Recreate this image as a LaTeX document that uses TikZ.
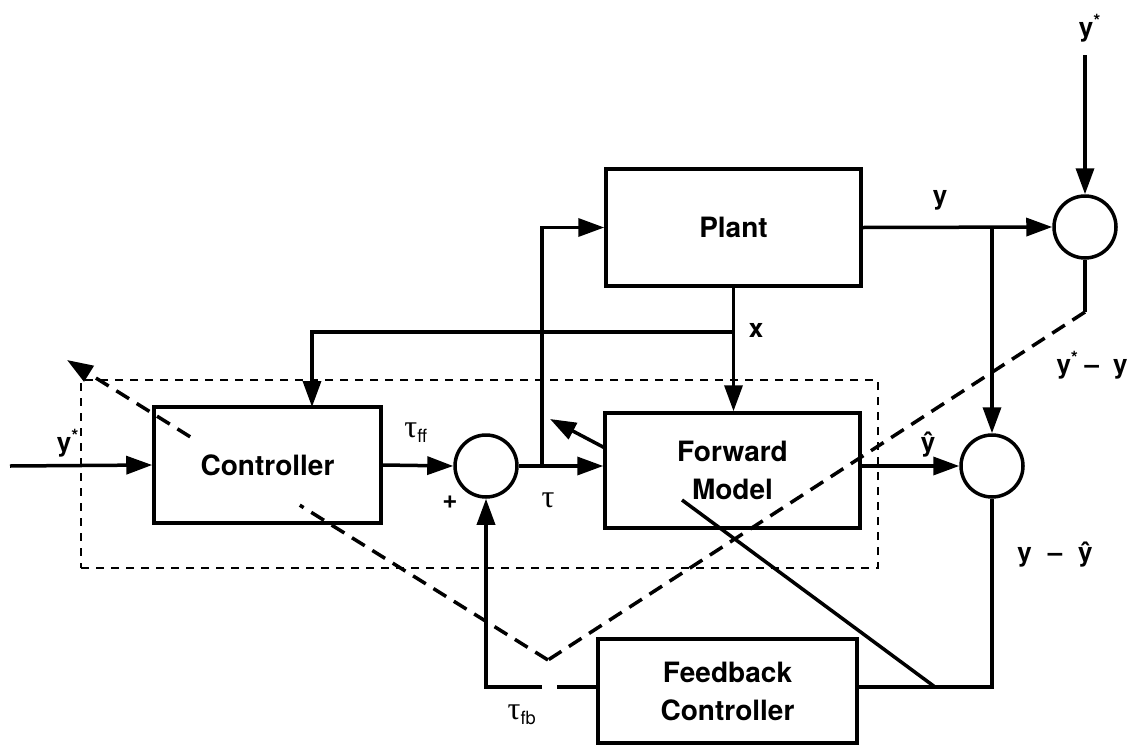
\documentclass[tikz,border=0pt]{standalone}
\usepackage{fontspec}
\setmainfont{TeX Gyre Heros}
\newfontfamily\grk{Liberation Serif}
\usetikzlibrary{arrows.meta,calc}
\tikzset{
  box/.style={draw,line width=3.5pt,rectangle,fill=none,align=center,
    font=\fontsize{28}{38}\selectfont\bfseries},
  sumnode/.style={draw,line width=3.5pt,circle,minimum size=62pt,inner sep=0pt},
  conn/.style={line width=3.5pt},
  arr/.style={line width=3.5pt,-{Triangle[length=26pt,width=18pt]}},
  lab/.style={inner sep=0pt,font=\fontsize{26}{30}\selectfont\bfseries},
  dashline/.style={line width=3.5pt,dash pattern=on 15pt off 9pt},
  dotbox/.style={draw,line width=2.5pt,dash pattern=on 8pt off 7pt,rectangle,inner sep=0pt}
}
\newcommand{\tauglyph}{{\grk\mdseries\fontsize{32}{32}\selectfont τ}}
\begin{document}
\begin{tikzpicture}[x=1pt,y=-1pt]
\useasboundingbox (0,0) rectangle (1141,747);
% group box
\node[dotbox,minimum width=797pt,minimum height=188pt] (grp) at (479.5,474) {};
% blocks
\node[box,minimum width=227pt,minimum height=116pt] (ctrl) at (267.5,465) {Controller};
\node[box,minimum width=255pt,minimum height=117pt] (plant) at (733.5,227.5) {Plant};
\node[box,minimum width=255pt,minimum height=115pt] (fm) at (732.5,470.5) {Forward\\Model};
\node[box,minimum width=259pt,minimum height=104pt] (fb) at (727.5,691) {Feedback\\Controller};
\node[sumnode] (sum1) at (486,466) {};
\node[sumnode] (sum2) at (992,466) {};
\node[sumnode] (sum3) at (1085,227) {};
% coordinates
\coordinate (in) at (10,466);
\coordinate (b1) at (542,466);
\coordinate (xj) at (733.5,332);
\coordinate (ctop) at (312,407);
\coordinate (yj) at (992,227);
\coordinate (ys) at (1085,55);
\coordinate (e1) at (1085,312);
\coordinate (v) at (548,660);
\coordinate (tip) at (67,360);
\coordinate (fa) at (605,448);
\coordinate (fat) at (550,419);
\coordinate (c2) at (992,687);
\coordinate (s1) at (682,500);
\coordinate (s2) at (935,687);
\coordinate (g1) at (557,687);
\coordinate (g2) at (542,687);
% connectors
\draw[arr] (in) -- (ctrl.west);
\draw[arr] (ctrl.east) -- (sum1.west);
\draw[arr] (sum1.east) -- (sum1.east -| fm.west);
\draw[arr] (b1) |- (plant.west);
\draw[arr] (plant.south) -- (plant.south |- fm.north);
\draw[arr] (xj) -| (ctop);
\draw[arr] (plant.east) -- (sum3.west);
\draw[arr] (yj) -- (sum2.north);
\draw[arr] (ys) -- (sum3.north);
\draw[conn] (sum3.south) -- (e1);
\draw[arr] (fa) -- (fat);
\draw[arr] (sum2.west -| fm.east) -- (sum2.west);
\draw[conn] (sum2.south) -- (c2) -- (c2 -| fb.east);
\draw[conn] (s1) -- (s2);
\draw[conn] (g1 -| fb.west) -- (g1);
\draw[arr] (g2) -| (sum1.south);
% dashed error paths
\draw[dashline] (e1) -- (v);
\draw[dashline] (v) -- ($(v)!0.516!(tip)$);
\draw[dashline,-{Triangle[length=26pt,width=18pt]}] ($(v)!0.744!(tip)$) -- (tip);
% labels
\node[lab] (lys1) at (68,443) {y\textsuperscript{*}};
\node[lab] (ltff) at (416,433) {\tauglyph\textsubscript{\mdseries ff}};
\node[lab] (lplus) at (450,502) {+};
\node[lab] (ltau) at (548,500) {\tauglyph};
\node[lab] (lx) at (756,330) {x};
\node[lab] (ly) at (940,200) {y};
\node[lab] (lyhat) at (928,445) {\^{y}};
\node[lab] (lerr1) at (1092,365) {y\textsuperscript{*}\hspace{6pt}--\hspace{14pt}y};
\node[lab] (lerr2) at (1055,555) {y\hspace{16pt}--\hspace{16pt}\^{y}};
\node[lab] (lys2) at (1090,28) {y\textsuperscript{*}};
\node[lab] (ltfb) at (522,715) {\tauglyph\textsubscript{\mdseries fb}};
\end{tikzpicture}
\end{document}
